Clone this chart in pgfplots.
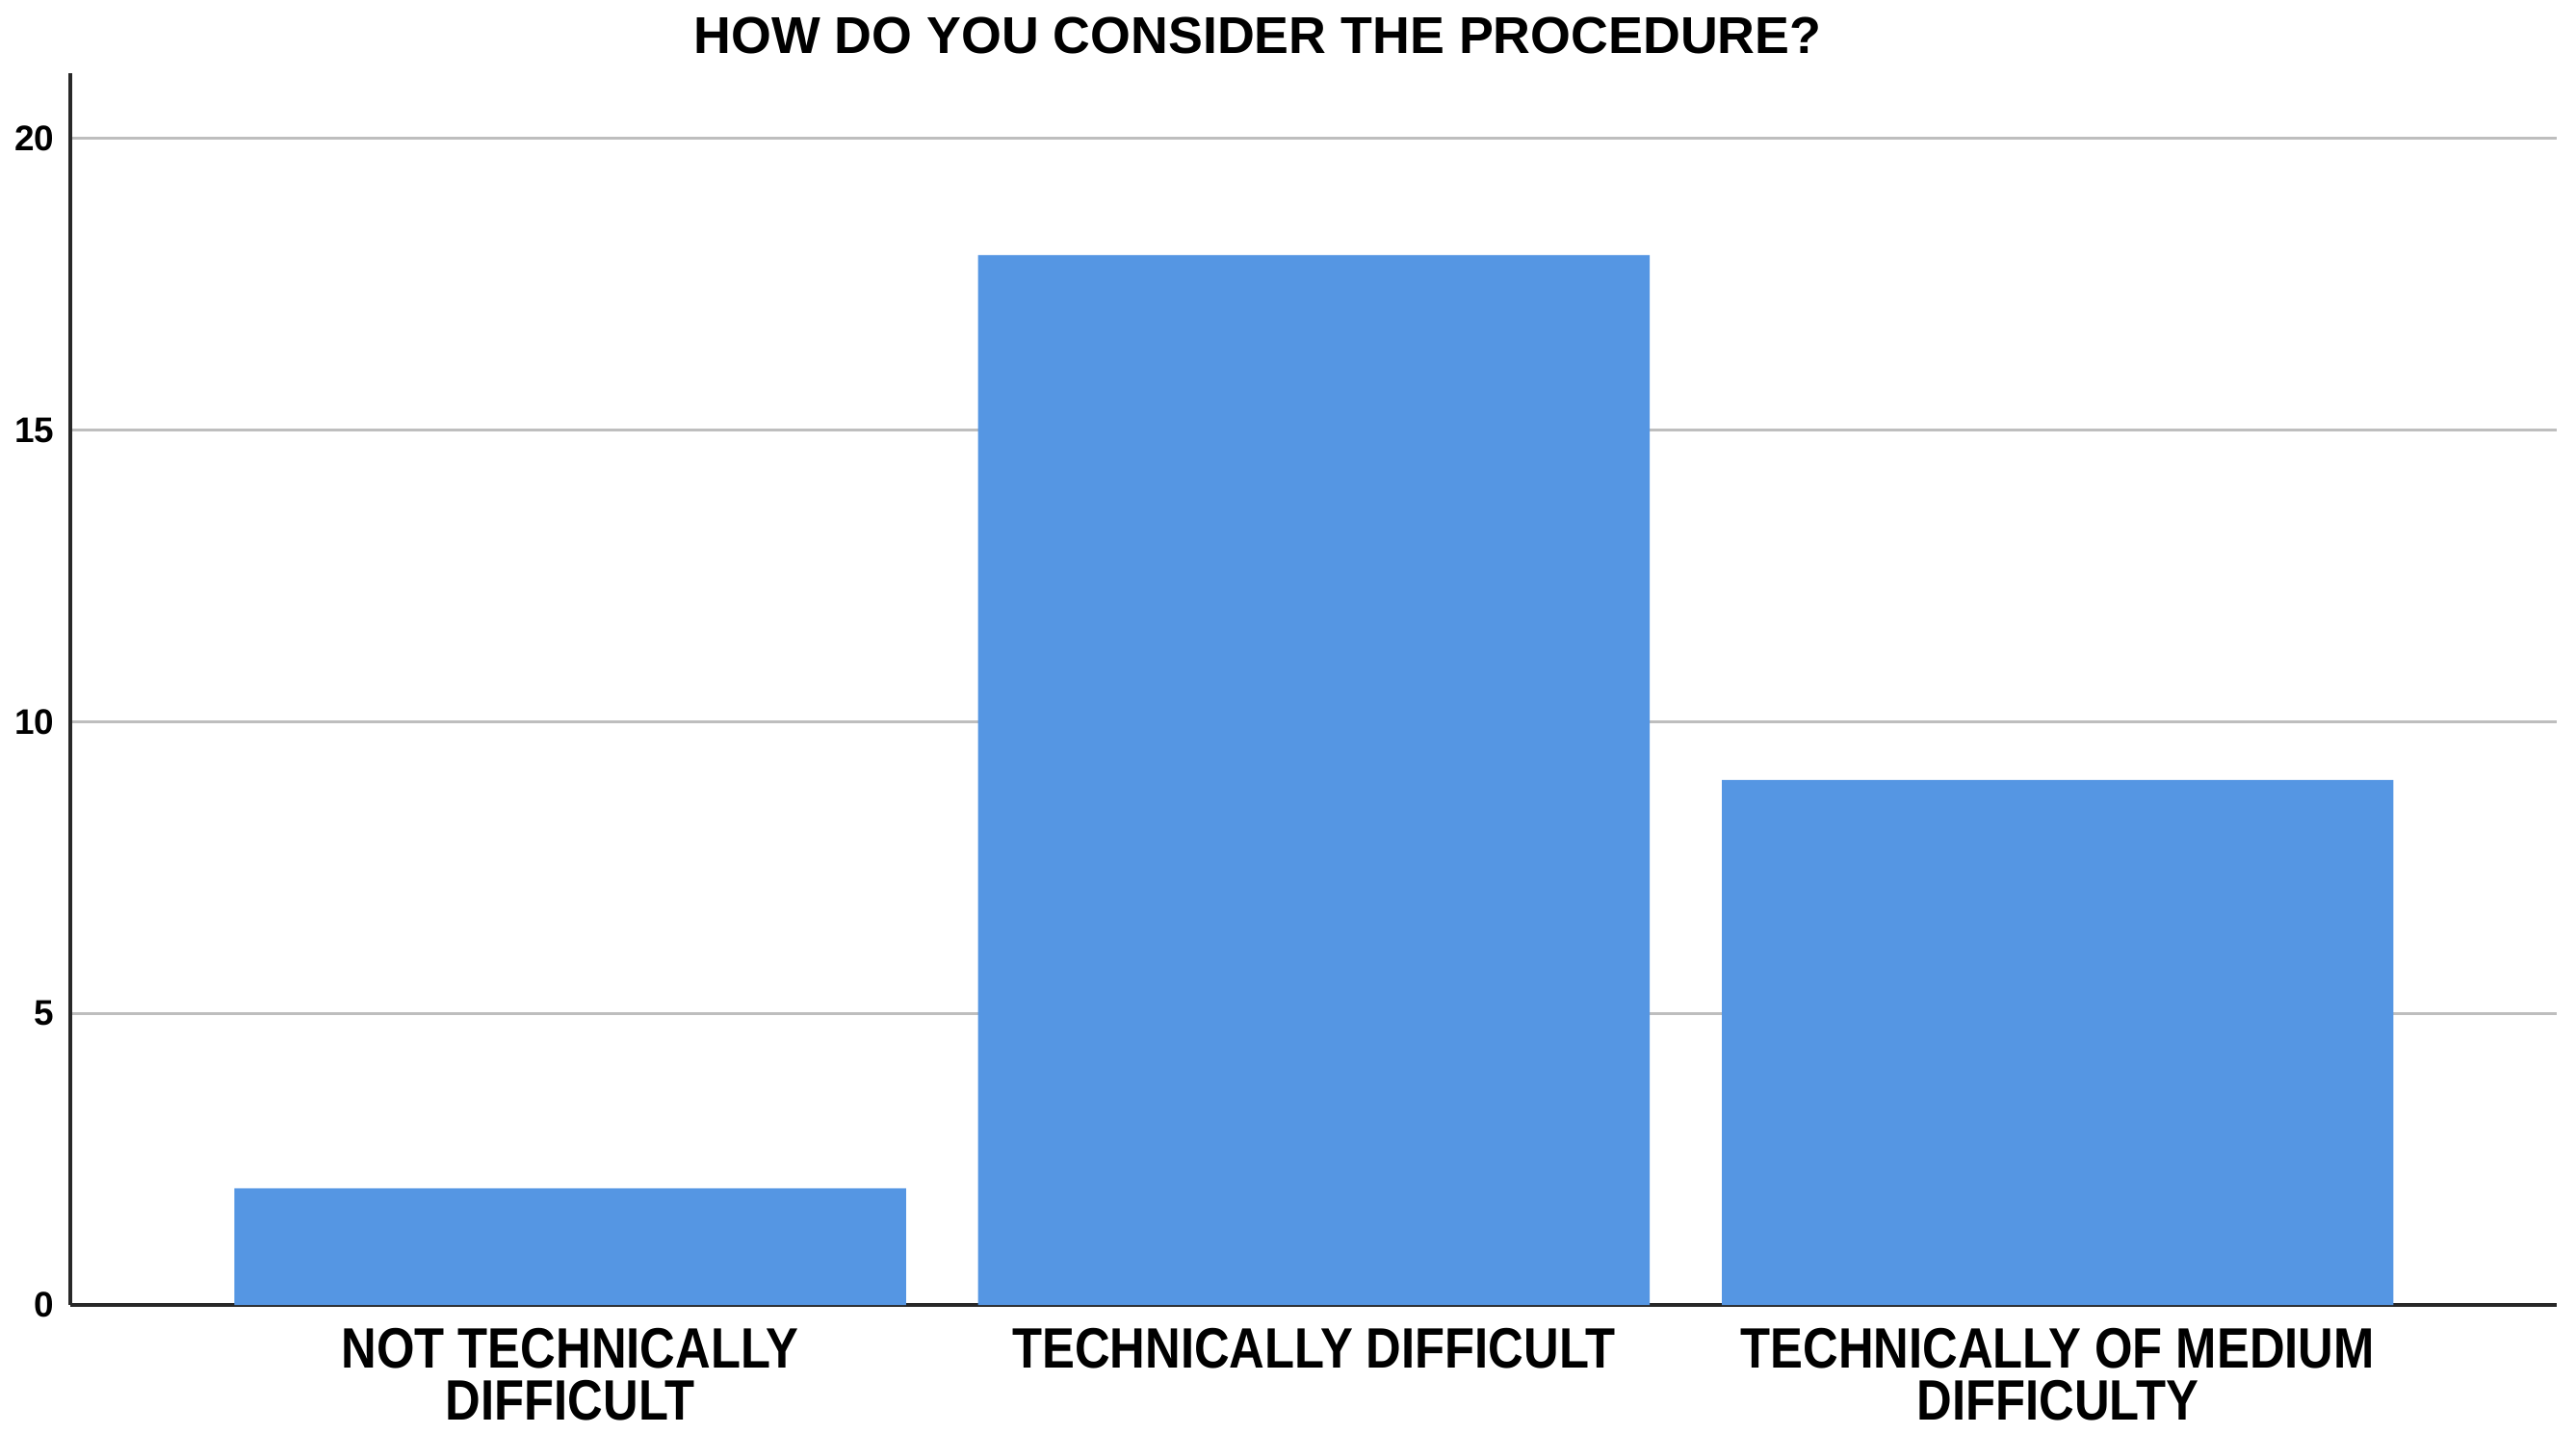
\documentclass[border=0pt]{standalone}
\usepackage{fontspec}
\setmainfont{Liberation Sans}
\newfontfamily\condfont[FakeStretch=0.86]{Liberation Sans}
\usepackage{pgfplots}
\pgfplotsset{compat=1.18}
\definecolor{barblue}{RGB}{85,150,227}
\definecolor{gridgray}{RGB}{190,190,190}
\definecolor{axisdark}{RGB}{40,40,40}
\begin{document}
\begin{tikzpicture}
\useasboundingbox (-7.3mm,-13.4mm) rectangle (260.2mm,135.5mm);
\begin{axis}[
  at={(0,0)}, anchor=south west,
  scale only axis,
  width=258.2mm, height=127.9mm,
  xmin=-0.672, xmax=2.671,
  ymin=0, ymax=21.12,
  axis lines=left,
  axis line style={axisdark, line width=1.4pt, -},
  xtick={0,1,2},
  xticklabels={{NOT TECHNICALLY\\DIFFICULT},{TECHNICALLY DIFFICULT},{TECHNICALLY OF MEDIUM\\DIFFICULTY}},
  xticklabel style={align=center, font=\condfont\bfseries\fontsize{16.8}{15.2}\selectfont, inner sep=0pt, anchor=north, yshift=-2.4mm},
  ytick={0,5,10,15,20},
  yticklabel style={font=\bfseries\fontsize{10.5}{12}\selectfont, inner sep=0pt, anchor=east, xshift=-1.6mm},
  /pgf/number format/assume math mode=true,
  major tick length=0pt,
  ymajorgrids=true,
  major grid style={gridgray, line width=0.85pt},
  ybar,
  bar width=0.903,
  bar shift=0pt,
  clip=false,
]
\addplot[fill=barblue, draw=none] coordinates {(0,2) (1,18) (2,9)};
\end{axis}
\node[font=\bfseries\fontsize{15.3}{18}\selectfont, inner sep=0pt] at (123.3mm,131.8mm) {HOW DO YOU CONSIDER THE PROCEDURE?};
\end{tikzpicture}
\end{document}
